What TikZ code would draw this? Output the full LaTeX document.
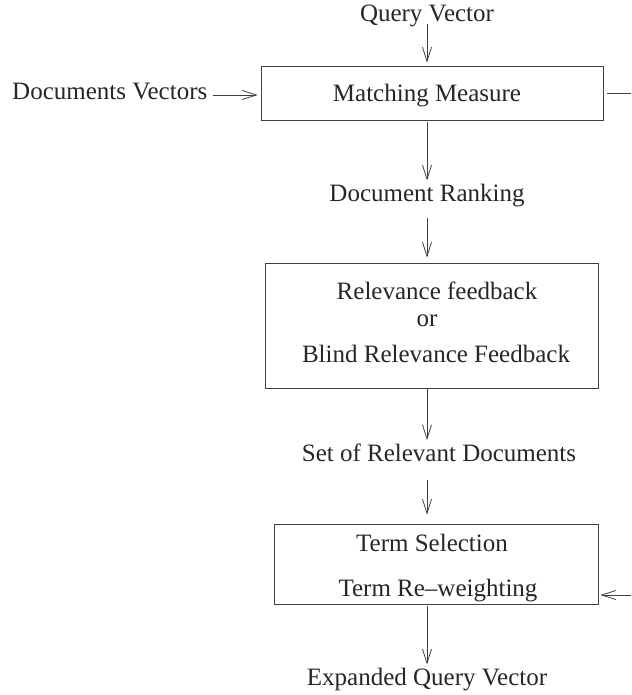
\documentclass[tikz,border=0pt]{standalone}
\usepackage{fontspec}
\setmainfont{Liberation Serif}
\usetikzlibrary{arrows.meta}
\begin{document}
\begin{tikzpicture}[x=1pt,y=-1pt,
  lbl/.style={inner sep=0pt,anchor=base,text depth=0pt,font=\fontsize{25}{30}\selectfont,text=black!85},
  box/.style={draw=black!75,line width=0.9pt,rectangle,inner sep=0pt},
  arr/.style={draw=black!75,line width=0.8pt,-{Straight Barb[length=14pt,width=9pt,line width=0.8pt]}},
  plain/.style={draw=black!75,line width=0.8pt}]
\useasboundingbox (0,0) rectangle (631,695);
\coordinate (ax) at (427,0);
% boxes
\node[box,minimum width=342pt,minimum height=54pt] (mm) at (432,93) {};
\node[box,minimum width=333pt,minimum height=125pt] (rf) at (431.5,325.5) {};
\node[box,minimum width=324pt,minimum height=80pt] (ts) at (436,564) {};
% texts
\node[lbl] (qv) at (427,22) {Query Vector};
\node[lbl] (mmt) at (427,102) {Matching Measure};
\node[lbl] (dr) at (427,201) {Document Ranking};
\node[lbl] (rft) at (437,299) {Relevance feedback};
\node[lbl] (ort) at (427,326) {or};
\node[lbl] (brf) at (436,362) {Blind Relevance Feedback};
\node[lbl] (sr) at (439,461) {Set of Relevant Documents};
\node[lbl] (tst) at (432,551) {Term Selection};
\node[lbl] (trw) at (438,596) {Term Re--weighting};
\node[lbl] (eq) at (427,685) {Expanded Query Vector};
\node[lbl,anchor=base west] (dv) at (12,100) {Documents Vectors};
% free ends
\coordinate (rout) at (631,93);
\coordinate (rin) at (631,595);
% connectors
\draw[arr,shorten <=2pt,shorten >=3pt] (qv.south -| ax) -- (mm.north -| ax);
\draw[arr,shorten <=2pt,shorten >=3pt] (mm.south -| ax) -- (dr.north -| ax);
\draw[arr,shorten <=17pt,shorten >=5pt] (dr.south -| ax) -- (rf.north -| ax);
\draw[arr,shorten >=3pt] (rf.south -| ax) -- (sr.north -| ax);
\draw[arr,shorten <=19pt,shorten >=9pt] (sr.south -| ax) -- (ts.north -| ax);
\draw[arr,shorten <=2pt,shorten >=3pt] (ts.south -| ax) -- (eq.north -| ax);
\draw[arr,shorten <=6pt,shorten >=3pt] (dv.east |- 0,95) -- (mm.west |- 0,95);
\draw[plain,shorten <=4pt] (mm.east |- rout) -- (rout);
\draw[arr,shorten >=2pt] (rin) -- (ts.east |- rin);
\end{tikzpicture}
\end{document}
